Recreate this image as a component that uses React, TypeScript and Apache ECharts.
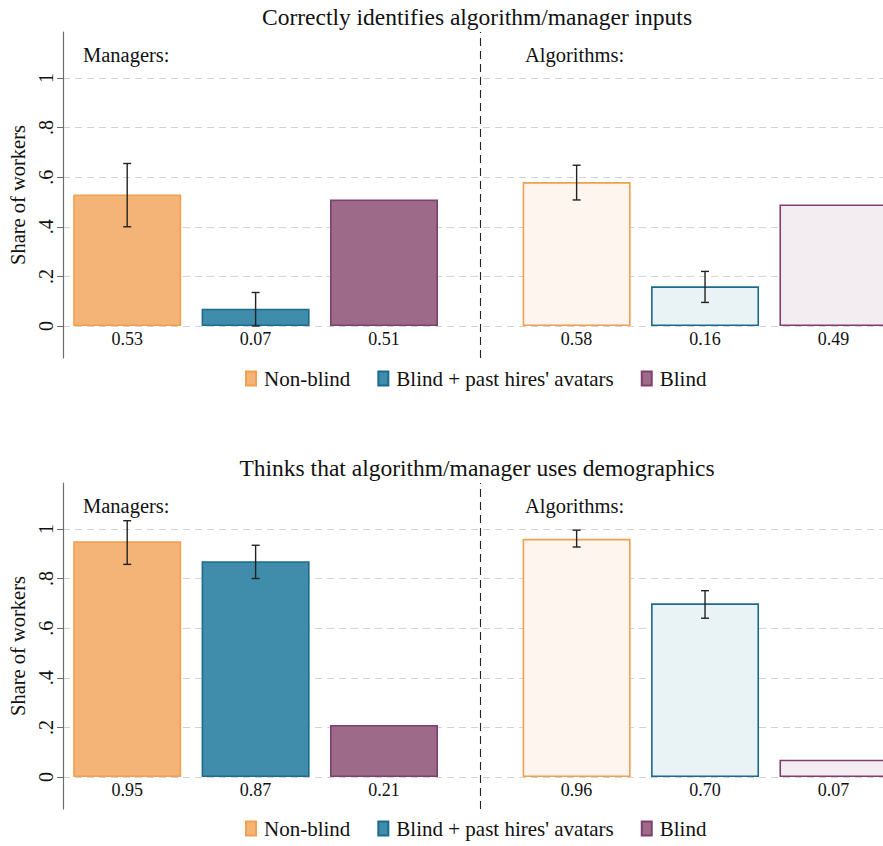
import React, { useEffect, useRef } from "react";
import * as echarts from "echarts";

// Conditions shown in each panel (one bar series per condition)
const categories = ["Non-blind", "Blind + past hires' avatars", "Blind"];
const groupLabels = ["Managers:", "Algorithms:"];
const panelTitles = [
  "Correctly identifies algorithm/manager inputs",
  "Thinks that algorithm/manager uses demographics",
];

// Panel 1: correctly identifies inputs
const inputsManagers = [0.53, 0.07, 0.51];
const inputsAlgorithms = [0.58, 0.16, 0.49];
const inputsManagersCI: ([number, number] | null)[] = [[0.4, 0.655], [0.0, 0.135], null];
const inputsAlgorithmsCI: ([number, number] | null)[] = [[0.508, 0.648], [0.095, 0.22], null];

// Panel 2: thinks demographics are used
const demoManagers = [0.95, 0.87, 0.21];
const demoAlgorithms = [0.96, 0.7, 0.07];
const demoManagersCI: ([number, number] | null)[] = [[0.857, 1.033], [0.8, 0.934], null];
const demoAlgorithmsCI: ([number, number] | null)[] = [[0.927, 0.995], [0.64, 0.751], null];

// Y axis ticks
const yTicks = [0, 0.2, 0.4, 0.6, 0.8, 1];
const yTickLabels = ["0", ".2", ".4", ".6", ".8", "1"];

const FONT = "'Liberation Serif', 'Times New Roman', Times, serif";
const fills = ["#F5B477", "#3F8DAB", "#9D6A8A"];
const lightFills = ["#FEF5EE", "#E9F2F5", "#F3ECF1"];
const borders = ["#F0A04E", "#1A6B8D", "#7E406C"];

const panels = [
  { managers: inputsManagers, algorithms: inputsAlgorithms, mCI: inputsManagersCI, aCI: inputsAlgorithmsCI },
  { managers: demoManagers, algorithms: demoAlgorithms, mCI: demoManagersCI, aCI: demoAlgorithmsCI },
];

// group start positions along the x axis, with a gap between the two groups
const groupStart = [1, 4.5];
const separatorX = 3.75;
const gridTops = [32, 483];
const gridHeight = 326;

export default function App() {
  const ref = useRef<HTMLDivElement>(null);

  useEffect(() => {
    if (!ref.current) return;
    const chart = echarts.init(ref.current, null, { renderer: "svg" });

    const grids = gridTops.map((top) => ({
      left: 63,
      right: 0,
      top,
      height: gridHeight,
      outerBoundsMode: "none",
      containLabel: false,
    }));
    const xAxes = gridTops.map((_, i) => ({
      gridIndex: i,
      type: "value",
      min: 0.5,
      max: 6.886,
      show: false,
    }));
    const yAxes = gridTops.map((_, i) => ({
      gridIndex: i,
      type: "value",
      min: -0.129,
      max: 1.185,
      name: "Share of workers",
      nameLocation: "middle",
      nameRotate: 90,
      nameGap: 31,
      nameTextStyle: { fontSize: 20.5, fontFamily: FONT, color: "#111" },
      axisLine: { show: true, lineStyle: { color: "#6e6e6e", width: 1.2 } },
      axisTick: { show: true, length: 6, customValues: yTicks, lineStyle: { color: "#6e6e6e" } },
      axisLabel: {
        customValues: yTicks,
        rotate: 90,
        margin: 7,
        fontSize: 20,
        fontFamily: FONT,
        color: "#111",
        formatter: (v: number) => {
          const idx = yTicks.findIndex((t) => Math.abs(t - v) < 1e-6);
          return idx >= 0 ? yTickLabels[idx] : "";
        },
      },
      splitLine: { show: true, lineStyle: { color: "#d3d3d3", type: [7, 5], width: 1.2 } },
    }));

    const series: any[] = [];
    panels.forEach((panel, p) => {
      categories.forEach((name, c) => {
        series.push({
          type: "bar",
          name,
          xAxisIndex: p,
          yAxisIndex: p,
          barWidth: 108,
          barGap: "-100%",
          clip: true,
          z: 2,
          itemStyle: { color: fills[c], borderColor: borders[c], borderWidth: 1.6 },
          label: {
            show: true,
            position: "bottom",
            distance: 4,
            fontSize: 18,
            fontFamily: FONT,
            color: "#111",
            formatter: (prm: any) => prm.value[1].toFixed(2),
          },
          data: [
            { value: [groupStart[0] + c, panel.managers[c]] },
            { value: [groupStart[1] + c, panel.algorithms[c]], itemStyle: { color: lightFills[c] } },
          ],
          markLine:
            c === 2
              ? {
                  silent: true,
                  symbol: ["none", "none"],
                  label: { show: false },
                  lineStyle: { color: "#222", type: [8, 5], width: 1.1 },
                  data: [{ xAxis: separatorX }],
                }
              : undefined,
        });
      });

      // confidence intervals
      const ci: number[][] = [];
      panel.mCI.forEach((r, c) => r && ci.push([groupStart[0] + c, r[0], r[1]]));
      panel.aCI.forEach((r, c) => r && ci.push([groupStart[1] + c, r[0], r[1]]));
      series.push({
        type: "custom",
        xAxisIndex: p,
        yAxisIndex: p,
        silent: true,
        z: 5,
        encode: { x: 0, y: [1, 2] },
        data: ci,
        renderItem: (_params: any, api: any) => {
          const x = api.value(0);
          const lo = api.coord([x, api.value(1)]);
          const hi = api.coord([x, api.value(2)]);
          const w = 4;
          const st = { stroke: "#222", lineWidth: 1.4 };
          return {
            type: "group",
            children: [
              { type: "line", shape: { x1: lo[0], y1: lo[1], x2: hi[0], y2: hi[1] }, style: st },
              { type: "line", shape: { x1: lo[0] - w, y1: lo[1], x2: lo[0] + w, y2: lo[1] }, style: st },
              { type: "line", shape: { x1: hi[0] - w, y1: hi[1], x2: hi[0] + w, y2: hi[1] }, style: st },
            ],
          };
        },
      });
    });

    const legends = [368, 818].map((top) => ({
      top,
      left: 245,
      padding: 0,
      icon: "rect",
      itemWidth: 10,
      itemHeight: 14,
      itemGap: 27,
      selectedMode: false,
      data: categories,
      textStyle: { fontSize: 21, fontFamily: FONT, color: "#111", padding: [0, 0, 0, 3] },
    }));

    const graphics: any[] = [];
    gridTops.forEach((top, p) => {
      graphics.push({
        type: "text",
        x: 477,
        y: top - 15,
        style: { text: panelTitles[p], font: `23.5px ${FONT}`, fill: "#111", align: "center", verticalAlign: "middle" },
      });
      graphics.push({
        type: "text",
        x: 83,
        y: top + 12,
        style: { text: groupLabels[0], font: `20.5px ${FONT}`, fill: "#111", align: "left", verticalAlign: "top" },
      });
      graphics.push({
        type: "text",
        x: 525,
        y: top + 12,
        style: { text: groupLabels[1], font: `20.5px ${FONT}`, fill: "#111", align: "left", verticalAlign: "top" },
      });
    });

    chart.setOption({
      animation: false,
      backgroundColor: "#fff",
      grid: grids,
      xAxis: xAxes,
      yAxis: yAxes,
      legend: legends,
      series,
      graphic: graphics,
    });

    return () => chart.dispose();
  }, []);

  return (
    <div
      ref={ref}
      style={{ position: "fixed", left: 0, top: 0, width: 883, height: 846 }}
    />
  );
}
